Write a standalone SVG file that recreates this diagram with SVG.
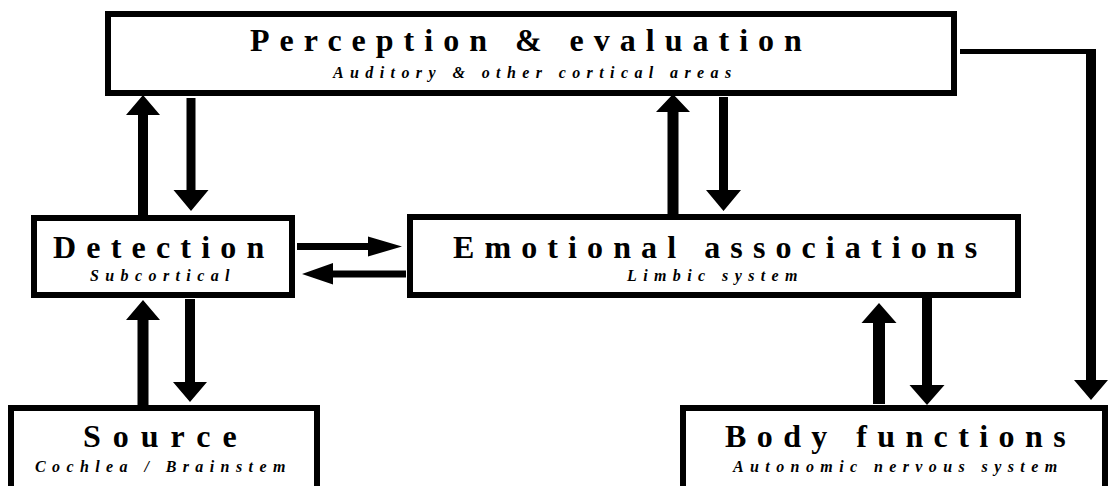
<svg xmlns="http://www.w3.org/2000/svg" width="1117" height="486" viewBox="0 0 1117 486">
<style>
.box{fill:#fff;stroke:#000;stroke-width:6}
.title{font-family:"Liberation Serif","Times New Roman",serif;font-weight:bold;font-size:32px;fill:#000}
.sub{font-family:"Liberation Serif","Times New Roman",serif;font-weight:bold;font-style:italic;font-size:16px;fill:#000;letter-spacing:6.4px}
.arrow{fill:#000;stroke:none}
</style>
<rect width="1117" height="486" fill="#fff"/>
<g id="connectors">
<path class="arrow" d="M138,216 L138,115 L126,115 L143,95 L160,115 L148,115 L148,216 Z"/>
<path class="arrow" d="M186.5,98 L186.5,190 L173.5,190 L191,211 L208.5,190 L195.5,190 L195.5,98 Z"/>
<path class="arrow" d="M137.5,406 L137.5,320 L126,320 L143,300 L160,320 L148.5,320 L148.5,406 Z"/>
<path class="arrow" d="M185,299 L185,382 L173,382 L190,402 L207,382 L195,382 L195,299 Z"/>
<path class="arrow" d="M667.5,215 L667.5,112 L656,112 L673,94 L690,112 L678.5,112 L678.5,215 Z"/>
<path class="arrow" d="M719,97 L719,190 L706,190 L723.5,211 L741,190 L728,190 L728,97 Z"/>
<path class="arrow" d="M873,404 L873,323 L861.5,323 L879,303 L896.5,323 L885,323 L885,404 Z"/>
<path class="arrow" d="M922,297 L922,385 L909.5,385 L927,405 L944.5,385 L932,385 L932,297 Z"/>
<path class="arrow" d="M960,49 L1096,49 L1096,380 L1108,380 L1091,400 L1074,380 L1086,380 L1086,54 L960,54 Z"/>
<path class="arrow" d="M297,243 L368,243 L368,236.5 L402,246.5 L368,256.5 L368,250 L297,250 Z"/>
<path class="arrow" d="M406,270.5 L333,270.5 L333,263 L302,274 L333,284.5 L333,277.5 L406,277.5 Z"/>
</g>
<g id="perception">
<rect class="box" x="108" y="14" width="846" height="79"/>
<text class="title" x="250" y="51" style="letter-spacing:10px">Perception &amp; evaluation</text>
<text class="sub" x="333" y="78">Auditory &amp; other cortical areas</text>
</g>
<g id="detection">
<rect class="box" x="34" y="218" width="258" height="77"/>
<text class="title" x="53" y="258" style="letter-spacing:10.2px">Detection</text>
<text class="sub" x="90" y="281">Subcortical</text>
</g>
<g id="emotional">
<rect class="box" x="410" y="217" width="608" height="78"/>
<text class="title" x="453" y="258" style="letter-spacing:10.1px">Emotional associations</text>
<text class="sub" x="627" y="281">Limbic system</text>
</g>
<g id="source">
<rect class="box" x="11" y="408" width="306" height="100"/>
<text class="title" x="83" y="447" style="letter-spacing:12px">Source</text>
<text class="sub" x="35" y="472">Cochlea / Brainstem</text>
</g>
<g id="body">
<rect class="box" x="683" y="408" width="422" height="100"/>
<text class="title" x="725" y="447" style="letter-spacing:10.4px">Body functions</text>
<text class="sub" x="733" y="472">Autonomic nervous system</text>
</g>
</svg>
